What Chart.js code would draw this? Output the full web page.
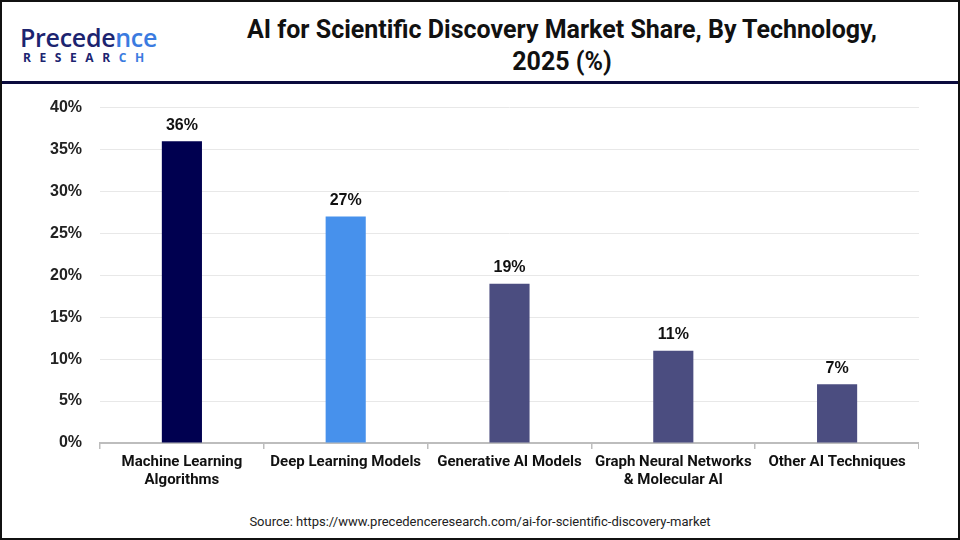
<!DOCTYPE html>
<html>
<head>
<meta charset="utf-8">
<script src="https://cdn.jsdelivr.net/npm/chart.js@4.4.1/dist/chart.umd.min.js"></script>
<style>
  html, body { margin: 0; padding: 0; background: #fff; }
  #frame {
    position: relative; width: 960px; height: 540px; box-sizing: border-box;
    border: 2px solid #111; overflow: hidden; background: #fff;
  }
  #logo { position: absolute; left: 18px; top: 21px; }
  #logo .top {
    font-family: "Open Sans", "DejaVu Sans", sans-serif; font-size: 25px; font-weight: 600;
    color: #1c2470; letter-spacing: -0.3px; line-height: 28px;
  }
  #logo .top span { color: #3b7be0; }
  #logo .bottom {
    font-family: "Open Sans", "DejaVu Sans", sans-serif; font-size: 12px; font-weight: 700;
    color: #1c2470; letter-spacing: 8.6px; line-height: 14px; margin-left: 3px;
  }
  #title {
    position: absolute; left: 200px; width: 720px; top: 12px; text-align: center;
    font-family: "Liberation Sans Narrow", "Roboto", sans-serif; font-weight: 700;
    font-size: 25px; line-height: 32px; color: #111;
  }
  #rule { position: absolute; left: 0; right: 0; top: 79px; height: 3px; background: #0b0b3d; }
  #box { position: absolute; left: 0; top: 78px; width: 917px; height: 418px; }
  #source {
    position: absolute; left: 0; width: 956px; top: 512px; text-align: center;
    font-family: "Liberation Sans Narrow", "Roboto", sans-serif; font-size: 13px; color: #222;
  }
</style>
</head>
<body>
<div id="frame">
  <div id="logo">
    <div class="top">Precede<span>nce</span></div>
    <div class="bottom">RESEAR<span style="color:#3b7be0">CH</span></div>
  </div>
  <div id="title">AI for Scientific Discovery Market Share, By Technology,<br>2025 (%)</div>
  <div id="rule"></div>
  <div id="box"><canvas id="myChart"></canvas></div>
  <div id="source">Source: https://www.precedenceresearch.com/ai-for-scientific-discovery-market</div>
</div>
<script>
const categorias = [
  ["Machine Learning", "Algorithms"],
  "Deep Learning Models",
  "Generative AI Models",
  ["Graph Neural Networks", "& Molecular AI"],
  "Other AI Techniques",
];
const participacion = [36, 27, 19, 11, 7];
const coloresBarras = ["#000050", "#4791ec", "#4b4d80", "#4b4d80", "#4b4d80"];
const ticksY = [0, 5, 10, 15, 20, 25, 30, 35, 40];

// etiquetas encima de cada barra
const etiquetasBarras = {
  id: "etiquetasBarras",
  afterDatasetsDraw(chart) {
    const { ctx } = chart;
    const meta = chart.getDatasetMeta(0);
    ctx.save();
    ctx.font = "bold 16px 'Liberation Sans', Arial, sans-serif";
    ctx.fillStyle = "#111";
    ctx.textAlign = "center";
    ctx.textBaseline = "bottom";
    meta.data.forEach((bar, i) => {
      ctx.fillText(participacion[i] + "%", bar.x, bar.y - 8);
    });
    ctx.restore();
  },
};

const config = {
  type: "bar",
  data: {
    labels: categorias,
    datasets: [
      {
        data: participacion,
        backgroundColor: coloresBarras,
        borderWidth: 0,
        barPercentage: 0.245,
        categoryPercentage: 1,
      },
    ],
  },
  options: {
    responsive: true,
    maintainAspectRatio: false,
    animation: false,
    layout: { padding: { top: 4, right: 0, left: 0, bottom: 0 } },
    plugins: { legend: { display: false }, tooltip: { enabled: false } },
    scales: {
      x: {
        grid: {
          offset: true,
          drawOnChartArea: false,
          tickLength: 6,
          color: "#bdbdbd",
          lineWidth: 1.5,
        },
        border: { color: "#bdbdbd", width: 2 },
        ticks: {
          color: "#111",
          padding: 4,
          maxRotation: 0,
          autoSkip: false,
          font: { family: "'Liberation Sans Narrow', Roboto, sans-serif", size: 15, weight: "bold", lineHeight: 1.2 },
        },
        afterFit: (scale) => { scale.height = 55; },
      },
      y: {
        min: 0,
        max: 40,
        afterBuildTicks: (scale) => { scale.ticks = ticksY.map((v) => ({ value: v })); },
        grid: { color: "#e8e8e8", drawTicks: false, lineWidth: 1 },
        border: { display: false },
        ticks: {
          color: "#222",
          padding: 18,
          callback: (v) => v + "%",
          font: { family: "'Liberation Sans', Arial, sans-serif", size: 16, weight: "bold" },
        },
        afterFit: (scale) => { scale.width = 98; },
      },
    },
  },
  plugins: [etiquetasBarras],
};

new Chart(document.getElementById("myChart"), config);
</script>
</body>
</html>
